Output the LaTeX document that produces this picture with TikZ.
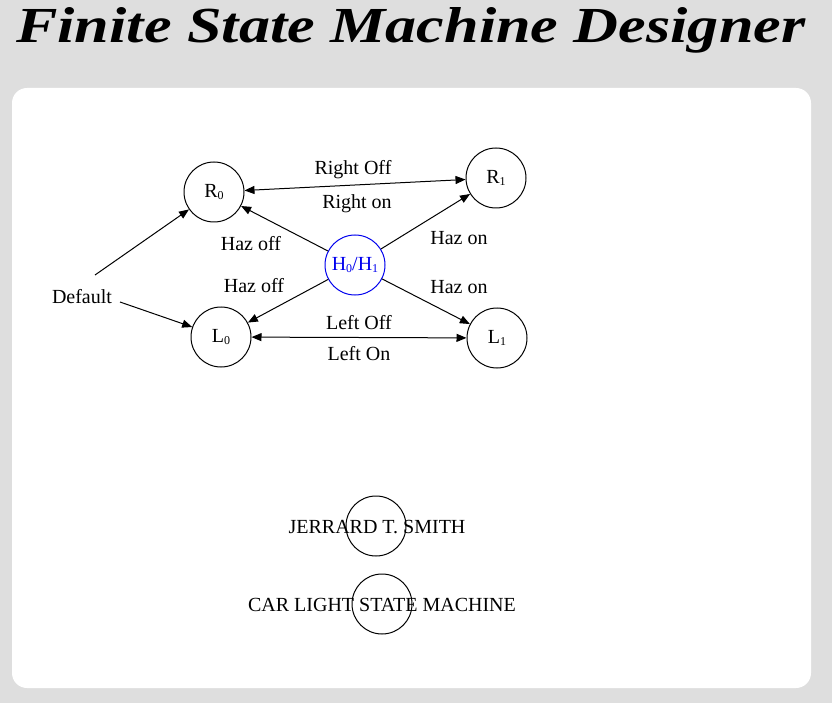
\documentclass[tikz,border=0pt]{standalone}
\usepackage{fontspec}
\setmainfont{Liberation Serif}
\usetikzlibrary{arrows.meta}
\definecolor{bg}{HTML}{DEDEDE}
\definecolor{hblue}{HTML}{0000EE}
\newcommand{\ssub}[1]{\raisebox{-2pt}{\fontsize{12}{12}\selectfont #1}}
\begin{document}
\begin{tikzpicture}[x=1pt,y=-1pt,
  state/.style={circle,draw,line width=1pt,minimum size=60pt,inner sep=0pt,font=\fontsize{20}{24}\selectfont},
  lbl/.style={inner sep=0pt,font=\fontsize{20}{24}\selectfont},
  arr/.style={line width=1pt,-{Triangle[length=10pt,width=8pt]}},
  barr/.style={line width=1pt,{Triangle[length=10pt,width=8pt]}-{Triangle[length=10pt,width=8pt]}}]
\useasboundingbox (0,0) rectangle (832,703);
\fill[bg] (0,0) rectangle (832,703);
\fill[white,rounded corners=15pt] (12,88) rectangle (811,688);
\node[anchor=base west,inner sep=0pt] (title) at (16,43)
  {\resizebox{789pt}{35pt}{\bfseries\itshape Finite State Machine Designer}};

\node[state] (R0) at (214,192) {R\ssub{0}};
\node[state] (R1) at (496,178) {R\ssub{1}};
\node[state,draw=hblue,text=hblue] (H) at (355,265) {H\ssub{0}/H\ssub{1}};
\node[state] (L0) at (221,337) {L\ssub{0}};
\node[state] (L1) at (497,338) {L\ssub{1}};

\node[lbl] (def) at (82,297) {Default};
\coordinate (d1) at (95,275);
\coordinate (d2) at (120,302);
\draw[arr] (d1) -- (R0);
\draw[arr] (d2) -- (L0);

\draw[barr] (R0) -- (R1);
\draw[barr] (L0) -- (L1);
\draw[arr] (H) -- (R0);
\draw[arr] (H) -- (R1);
\draw[arr] (H) -- (L0);
\draw[arr] (H) -- (L1);

\node[lbl] (l1) at (353,170) {Right Off};
\node[lbl] (l2) at (357,204) {Right on};
\node[lbl] (l3) at (251,244) {Haz off};
\node[lbl] (l4) at (459,238) {Haz on};
\node[lbl] (l5) at (254,286) {Haz off};
\node[lbl] (l6) at (459,287) {Haz on};
\node[lbl] (l7) at (359,323) {Left Off};
\node[lbl] (l8) at (359,354) {Left On};

\node[state] (B1) at (376,526) {};
\node[lbl] (n1) at (377,527) {JERRARD T. SMITH};
\node[state] (B2) at (382,604) {};
\node[lbl] (n2) at (382,605) {CAR LIGHT STATE MACHINE};
\end{tikzpicture}
\end{document}
